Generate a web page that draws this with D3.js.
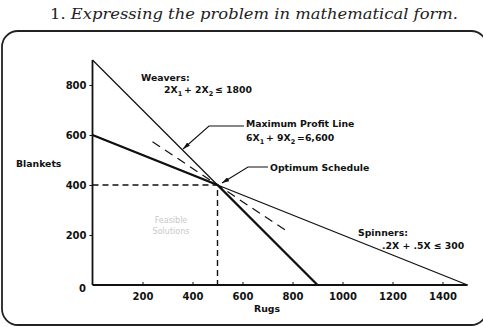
<!DOCTYPE html>
<html>
<head>
<meta charset="utf-8">
<script src="https://cdn.jsdelivr.net/npm/d3@7"></script>
<style>
  body { margin: 0; background: #fff; }
  svg { display: block; }
  .lbl { font-family: "DejaVu Sans", sans-serif; font-weight: bold; font-size: 9.3px; fill: #111; }
  .tick text { font-family: "DejaVu Sans", sans-serif; font-weight: bold; font-size: 10px; fill: #111; }
</style>
</head>
<body>
<svg width="483" height="327"></svg>
<script>
// data
const xTicks = [200, 400, 600, 800, 1000, 1200, 1400];
const yTicks = [200, 400, 600, 800];
const weaversX = [0, 900];
const weaversY = [900, 0];
const spinnersX = [0, 1500];
const spinnersY = [600, 0];
const boundaryX = [0, 500, 900];
const boundaryY = [600, 400, 0];
const profitX = [240, 775];
const profitY = [573, 217];
const optimum = [500, 400];

let svg = d3.select("svg");

let x = d3.scaleLinear().domain([0, 1500]).range([92.5, 467.5]);
let y = d3.scaleLinear().domain([0, 900]).range([285, 60]);

// title
let title = svg.append("text")
    .attr("x", 50)
    .attr("y", 19)
    .style("font-family", "DejaVu Serif, serif")
    .style("font-size", "15px")
    .attr("fill", "#222");
title.append("tspan").text("1. ");
title.append("tspan").style("font-style", "italic").text("Expressing the problem in mathematical form.");
title.attr("textLength", 408).attr("lengthAdjust", "spacingAndGlyphs");

// frame
svg.append("rect")
    .attr("x", 2).attr("y", 31)
    .attr("width", 485).attr("height", 294)
    .attr("rx", 16)
    .attr("fill", "none")
    .attr("stroke", "#222")
    .attr("stroke-width", 1.8);

// axes
let xAxis = d3.axisBottom(x).tickValues(xTicks).tickFormat(d3.format("d")).tickSize(-3).tickPadding(8);
let yAxis = d3.axisLeft(y).tickValues(yTicks).tickSize(3).tickPadding(3);

let gx = svg.append("g").attr("transform", `translate(0, ${y(0)})`).call(xAxis);
let gy = svg.append("g").attr("transform", `translate(${x(0)}, 0)`).call(yAxis);
[gx, gy].forEach(g => {
    g.select(".domain").attr("stroke", "#111").attr("stroke-width", 1.8);
    g.selectAll(".tick line").attr("stroke", "#111").attr("stroke-width", 1);
    g.selectAll(".tick text").attr("fill", "#111");
});
gy.select(".domain").attr("d", `M0,${y(0)}V${y(900)}`);
gx.select(".domain").attr("d", `M${x(0)},0H${x(1500)}`);

svg.append("text").attr("class", "lbl")
    .attr("x", x(0) - 10).attr("y", y(0) + 7)
    .attr("text-anchor", "middle").style("font-size", "10px").text("0");

svg.append("text").attr("class", "lbl")
    .attr("x", 267).attr("y", 312)
    .attr("text-anchor", "middle").text("Rugs");
svg.append("text").attr("class", "lbl")
    .attr("x", 16).attr("y", 167).text("Blankets");

let line = d3.line().x(d => x(d[0])).y(d => y(d[1]));

// guide lines to optimum
svg.append("path")
    .attr("d", line([[0, optimum[1]], optimum, [optimum[0], 0]]))
    .attr("fill", "none").attr("stroke", "#111")
    .attr("stroke-width", 1.4).attr("stroke-dasharray", "6,4");

// constraint lines (thin)
svg.append("path")
    .attr("d", line(d3.zip(weaversX, weaversY)))
    .attr("fill", "none").attr("stroke", "#111").attr("stroke-width", 1.2);
svg.append("path")
    .attr("d", line(d3.zip(spinnersX, spinnersY)))
    .attr("fill", "none").attr("stroke", "#111").attr("stroke-width", 1.2);

// feasible boundary (thick)
svg.append("path")
    .attr("d", line(d3.zip(boundaryX, boundaryY)))
    .attr("fill", "none").attr("stroke", "#111").attr("stroke-width", 2.2);

// profit line
svg.append("path")
    .attr("d", line(d3.zip(profitX, profitY)))
    .attr("fill", "none").attr("stroke", "#111")
    .attr("stroke-width", 1.2).attr("stroke-dasharray", "9,6");

// arrowheads
svg.append("defs").append("marker")
    .attr("id", "arr")
    .attr("viewBox", "0 0 10 6")
    .attr("refX", 10).attr("refY", 3)
    .attr("markerWidth", 7).attr("markerHeight", 4)
    .attr("orient", "auto")
    .append("path").attr("d", "M0,0L10,3L0,6Z").attr("fill", "#111");

// leaders
svg.append("path")
    .attr("d", "M244,126H209L183,149")
    .attr("fill", "none").attr("stroke", "#111").attr("stroke-width", 1.1)
    .attr("marker-end", "url(#arr)");
svg.append("path")
    .attr("d", "M268,167H248L222,183")
    .attr("fill", "none").attr("stroke", "#111").attr("stroke-width", 1.1)
    .attr("marker-end", "url(#arr)");

// subscript helper
function eq(t, parts) {
    parts.forEach(p => {
        if (p.sub) {
            t.append("tspan").attr("dy", 2.5).style("font-size", "6.5px").text(p.sub);
            t.append("tspan").attr("dy", -2.5).text("\u2009");
        } else {
            t.append("tspan").text(p.txt);
        }
    });
}

svg.append("text").attr("class", "lbl").attr("x", 141).attr("y", 81).text("Weavers:");
eq(svg.append("text").attr("class", "lbl").attr("x", 164).attr("y", 93),
    [{txt: "2X"}, {sub: "1"}, {txt: "+ 2X"}, {sub: "2"}, {txt: "≤ 1800"}]);

svg.append("text").attr("class", "lbl").attr("x", 246).attr("y", 127).text("Maximum Profit Line");
eq(svg.append("text").attr("class", "lbl").attr("x", 246).attr("y", 141),
    [{txt: "6X"}, {sub: "1"}, {txt: "+ 9X"}, {sub: "2"}, {txt: "=6,600"}]);

svg.append("text").attr("class", "lbl").attr("x", 270).attr("y", 171).text("Optimum Schedule");

svg.append("text").attr("class", "lbl").attr("x", 358).attr("y", 236).text("Spinners:");
svg.append("text").attr("class", "lbl").attr("x", 382).attr("y", 249).text(".2X  + .5X  ≤ 300");

// faint feasible label
svg.append("text").attr("x", 171).attr("y", 223).attr("text-anchor", "middle")
    .style("font-family", "DejaVu Sans, sans-serif").style("font-size", "8px")
    .attr("fill", "#c8c8c8").text("Feasible");
svg.append("text").attr("x", 171).attr("y", 234).attr("text-anchor", "middle")
    .style("font-family", "DejaVu Sans, sans-serif").style("font-size", "8px")
    .attr("fill", "#c8c8c8").text("Solutions");
</script>
</body>
</html>
